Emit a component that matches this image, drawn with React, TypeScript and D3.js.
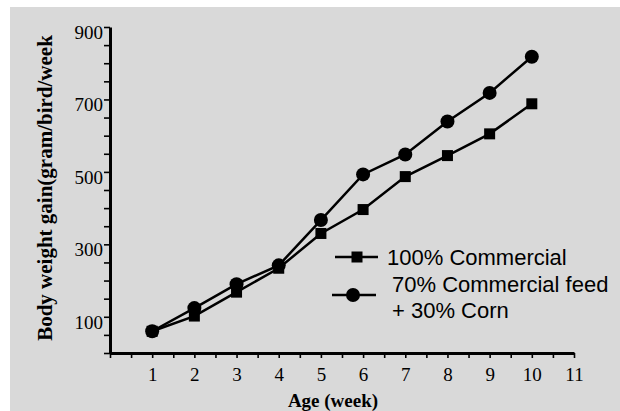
import { useEffect, useRef } from 'react';
import * as d3 from 'd3';

const weeks = [1, 2, 3, 4, 5, 6, 7, 8, 9, 10];
const commercial = [60, 102, 168, 234, 330, 396, 487, 545, 605, 688];
const cornMix = [60, 124, 190, 242, 367, 493, 548, 639, 718, 818];
const yLabels = [100, 300, 500, 700, 900];
const xLabels = [1, 2, 3, 4, 5, 6, 7, 8, 9, 10, 11];

const width = 620;
const height = 411;

export default function App() {
  const svgRef = useRef<SVGSVGElement>(null);

  useEffect(() => {
    if (!svgRef.current) return;
    const svg = d3.select(svgRef.current);
    svg.selectAll('*').remove();

    const x = d3.scaleLinear().domain([0, 11]).range([110, 574]);
    const y = d3.scaleLinear().domain([0, 900]).range([353, 27]);

    svg.append('rect')
      .attr('x', 10).attr('y', 7)
      .attr('width', width - 10).attr('height', height - 7)
      .attr('fill', '#d9d9d9');

    // y axis
    const yAxis = svg.append('g')
      .attr('transform', `translate(${x(0)},0)`)
      .call(d3.axisLeft(y)
        .tickValues(d3.range(0, 901, 50))
        .tickSize(6)
        .tickSizeOuter(0)
        .tickPadding(1)
        .tickFormat(d => (yLabels.includes(+d) ? String(d) : '')));
    yAxis.select('.domain').attr('stroke', '#000').attr('stroke-width', 3);
    yAxis.selectAll('.tick line').attr('stroke', '#000').attr('stroke-width', 1.6);
    yAxis.selectAll('.tick text')
      .attr('font-family', '"Liberation Serif", "Times New Roman", serif')
      .attr('font-size', 19)
      .attr('fill', '#000')
      .attr('dy', '0.6em');

    // x axis
    const xAxis = svg.append('g')
      .attr('transform', `translate(0,${y(0)})`)
      .call(d3.axisBottom(x)
        .tickValues(d3.range(0, 11.01, 0.5))
        .tickSize(5)
        .tickSizeOuter(0)
        .tickPadding(10)
        .tickFormat(d => (xLabels.includes(+d) ? String(d) : '')));
    xAxis.select('.domain').attr('stroke', '#000').attr('stroke-width', 3);
    xAxis.selectAll('.tick line').attr('stroke', '#000').attr('stroke-width', 1.6);
    xAxis.selectAll('.tick text')
      .attr('font-family', '"Liberation Serif", "Times New Roman", serif')
      .attr('font-size', 19)
      .attr('fill', '#000');

    // titles
    svg.append('text')
      .attr('x', 333).attr('y', 407)
      .attr('text-anchor', 'middle')
      .attr('font-family', '"Liberation Serif", "Times New Roman", serif')
      .attr('font-weight', 'bold')
      .attr('font-size', 19)
      .text('Age (week)');

    svg.append('text')
      .attr('transform', `translate(52,188) rotate(-90)`)
      .attr('text-anchor', 'middle')
      .attr('font-family', '"Liberation Serif", "Times New Roman", serif')
      .attr('font-weight', 'bold')
      .attr('font-size', 21)
      .text('Body weight gain(gram/bird/week');

    const line = d3.line<number>()
      .x((_, i) => x(weeks[i]))
      .y(d => y(d));

    const sq = 11;

    // corn mix series (circles)
    svg.append('path')
      .attr('d', line(cornMix))
      .attr('fill', 'none')
      .attr('stroke', '#000')
      .attr('stroke-width', 2.5);
    svg.selectAll('.circ')
      .data(cornMix)
      .enter().append('circle')
      .attr('cx', (_, i) => x(weeks[i]))
      .attr('cy', d => y(d))
      .attr('r', 7)
      .attr('fill', '#000');

    // commercial series (squares)
    svg.append('path')
      .attr('d', line(commercial))
      .attr('fill', 'none')
      .attr('stroke', '#000')
      .attr('stroke-width', 2.5);
    svg.selectAll('.sq')
      .data(commercial)
      .enter().append('rect')
      .attr('x', (_, i) => x(weeks[i]) - sq / 2)
      .attr('y', d => y(d) - sq / 2)
      .attr('width', sq)
      .attr('height', sq)
      .attr('fill', '#000');

    // legend
    const lg = svg.append('g')
      .attr('font-family', '"Liberation Sans", Arial, sans-serif')
      .attr('font-size', 22)
      .attr('fill', '#000');
    lg.append('line')
      .attr('x1', 335).attr('x2', 378).attr('y1', 257).attr('y2', 257)
      .attr('stroke', '#000').attr('stroke-width', 2.5);
    lg.append('rect')
      .attr('x', 357 - sq / 2).attr('y', 257 - sq / 2)
      .attr('width', sq).attr('height', sq);
    lg.append('text').attr('x', 387).attr('y', 265).text('100% Commercial');

    lg.append('line')
      .attr('x1', 332).attr('x2', 376).attr('y1', 295).attr('y2', 295)
      .attr('stroke', '#000').attr('stroke-width', 2.5);
    lg.append('circle').attr('cx', 353).attr('cy', 295).attr('r', 7);
    lg.append('text').attr('x', 392).attr('y', 292).text('70% Commercial feed');
    lg.append('text').attr('x', 392).attr('y', 318).text('+ 30% Corn');
  }, []);

  return (
    <svg
      ref={svgRef}
      width={width}
      height={height}
      style={{ position: 'absolute', left: 0, top: 0, background: '#fff' }}
    />
  );
}
